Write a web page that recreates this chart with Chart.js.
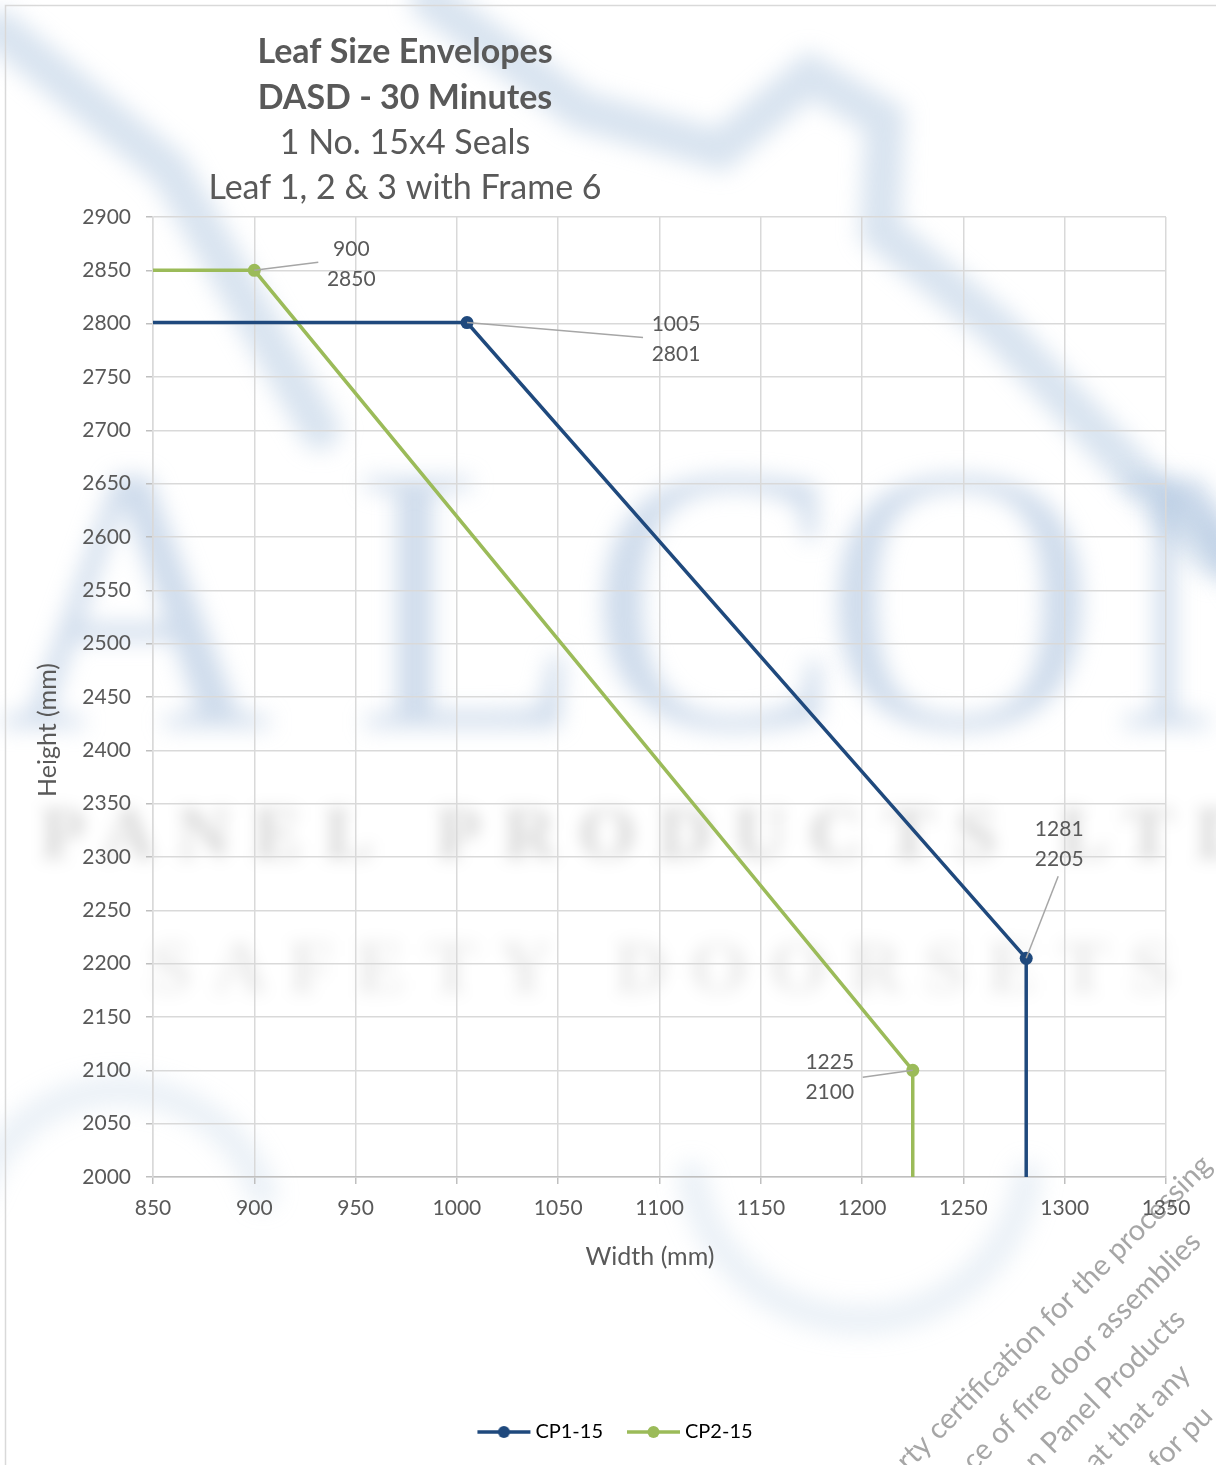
<!DOCTYPE html>
<html>
<head>
<meta charset="utf-8">
<title>Leaf Size Envelopes</title>
<script src="https://cdn.jsdelivr.net/npm/chart.js@4.4.1/dist/chart.umd.min.js"></script>
<style>
  html, body { margin: 0; padding: 0; background: #fff; overflow: hidden; }
  canvas { display: block; }
</style>
</head>
<body>
<canvas id="envelopeChart" width="1216" height="1465"></canvas>
<script>
// chart values
const titleLines = ['Leaf Size Envelopes', 'DASD - 30 Minutes'];
const subtitleLines = ['1 No. 15x4 Seals', 'Leaf 1, 2 & 3 with Frame 6'];
const xAxisTitle = 'Width (mm)';
const yAxisTitle = 'Height (mm)';
const seriesNames = ['CP1-15', 'CP2-15'];
const cp1Width = [850, 1005, 1281, 1281];
const cp1Height = [2801, 2801, 2205, 2000];
const cp2Width = [850, 900, 1225, 1225];
const cp2Height = [2850, 2850, 2100, 2000];
const labelledPoints = [1, 2]; // points with a marker and a value label
const xTicks = [850, 900, 950, 1000, 1050, 1100, 1150, 1200, 1250, 1300, 1350];
const yTicks = [2000, 2050, 2100, 2150, 2200, 2250, 2300, 2350, 2400, 2450, 2500, 2550, 2600, 2650, 2700, 2750, 2800, 2850, 2900];

const navy = '#1f497d';
const green = '#9bbb59';
const textGrey = '#595959';
const gridGrey = '#d9d9d9';
const FONT = "Lato, 'Open Sans', sans-serif";

// where each value label sits relative to its point (px), and where its leader line ends
const labelPlacement = [
  [null, {dx: 209, dy: 17, lx: 176, ly: 15}, {dx: 33, dy: -114, lx: 32, ly: -82}, null],
  [null, {dx: 97, dy: -6, lx: 64, ly: -8}, {dx: -83, dy: 7, lx: -50, ly: 7}, null]
];

function toPoints(xs, ys) {
  return xs.map((x, i) => ({x: x, y: ys[i]}));
}

function legendSwatch(color) {
  const c = document.createElement('canvas');
  c.width = 70; c.height = 16;
  const g = c.getContext('2d');
  g.strokeStyle = color;
  g.lineWidth = 3.5;
  g.beginPath(); g.moveTo(16, 8); g.lineTo(69, 8); g.stroke();
  g.fillStyle = color;
  g.beginPath(); g.arc(42.5, 8, 6, 0, Math.PI * 2); g.fill();
  return c;
}
const swatches = [legendSwatch(navy), legendSwatch(green)];

const backdrop = {
  id: 'backdrop',
  beforeDraw(chart) {
    const ctx = chart.ctx;
    ctx.save();
    ctx.fillStyle = '#fff';
    ctx.fillRect(0, 0, chart.width, chart.height);

    // faint logo watermark
    ctx.filter = 'blur(11px)';
    ctx.strokeStyle = 'rgba(165,190,220,0.42)';
    ctx.lineWidth = 40;
    ctx.lineCap = 'round';
    ctx.beginPath();
    ctx.moveTo(0, 30); ctx.lineTo(170, 170); ctx.lineTo(320, 430);
    ctx.stroke();
    ctx.beginPath();
    ctx.moveTo(430, 0); ctx.lineTo(580, 110); ctx.lineTo(720, 150);
    ctx.lineTo(810, 75); ctx.lineTo(885, 120); ctx.lineTo(880, 230);
    ctx.lineTo(1000, 330); ctx.lineTo(1216, 560);
    ctx.stroke();
    ctx.lineWidth = 30;
    ctx.strokeStyle = 'rgba(165,190,220,0.22)';
    ctx.beginPath(); ctx.arc(860, 1150, 170, Math.PI * 0.05, Math.PI * 0.95); ctx.stroke();
    ctx.beginPath(); ctx.arc(120, 1240, 150, Math.PI * 1.1, Math.PI * 1.9); ctx.stroke();

    ctx.fillStyle = 'rgba(160,185,218,0.5)';
    ctx.font = "380px 'Liberation Serif', serif";
    ctx.textAlign = 'center';
    ctx.textBaseline = 'alphabetic';
    [['A', 135], ['L', 470], ['C', 715], ['O', 960], ['N', 1250]].forEach(([ch, x]) => ctx.fillText(ch, x, 727));

    ctx.filter = 'blur(8px)';
    ctx.fillStyle = 'rgba(0,0,0,0.16)';
    ctx.font = "bold 74px 'Liberation Serif', serif";
    ctx.letterSpacing = '22px';
    ctx.textAlign = 'left';
    ctx.fillText('PANEL PRODUCTS LTD', 40, 858);
    ctx.fillStyle = 'rgba(0,0,0,0.09)';
    ctx.fillText('SAFETY DOORSETS', 150, 992);
    ctx.letterSpacing = '0px';
    ctx.filter = 'none';

    // diagonal disclaimer text, bottom right
    ctx.fillStyle = '#a6a6a6';
    ctx.font = '29px ' + FONT;
    const diag = [
      ['rty certification for the processing', 2380],
      ['ce of fire door assemblies', 2446],
      ['n Panel Products', 2508],
      ['at that any', 2568],
      ['for pu', 2632]
    ];
    diag.forEach(([txt, s]) => {
      ctx.save();
      ctx.translate(s - 1472, 1472);
      ctx.rotate(-Math.PI / 4);
      ctx.fillText(txt, 0, 0);
      ctx.restore();
    });

    // chart frame
    ctx.strokeStyle = gridGrey;
    ctx.lineWidth = 1.5;
    ctx.strokeRect(5.5, 5.5, 2000, 2000);
    ctx.restore();
  },
  afterDraw(chart) {
    const ctx = chart.ctx;
    ctx.save();
    ctx.fillStyle = textGrey;
    ctx.textAlign = 'center';
    ctx.textBaseline = 'middle';
    ctx.font = 'bold 34px ' + FONT;
    titleLines.forEach((t, i) => ctx.fillText(t, 405, 52 + i * 46));
    ctx.font = '34px ' + FONT;
    subtitleLines.forEach((t, i) => ctx.fillText(t, 405, 143 + i * 45));

    // axis titles
    ctx.font = '25px ' + FONT;
    ctx.fillText(xAxisTitle, 650, 1257);
    ctx.translate(48, 730);
    ctx.rotate(-Math.PI / 2);
    ctx.fillText(yAxisTitle, 0, 0);
    ctx.restore();
  }
};

const valueLabels = {
  id: 'valueLabels',
  afterDatasetsDraw(chart) {
    const ctx = chart.ctx;
    ctx.save();
    chart.data.datasets.forEach((ds, di) => {
      const meta = chart.getDatasetMeta(di);
      labelledPoints.forEach(pi => {
        const place = labelPlacement[di][pi];
        const el = meta.data[pi];
        const cx = el.x + place.dx;
        const cy = el.y + place.dy;
        ctx.strokeStyle = '#a6a6a6';
        ctx.lineWidth = 1.5;
        ctx.beginPath();
        ctx.moveTo(el.x, el.y);
        ctx.lineTo(el.x + place.lx, el.y + place.ly);
        ctx.stroke();
        ctx.fillStyle = textGrey;
        ctx.font = '21px ' + FONT;
        ctx.textAlign = 'center';
        ctx.textBaseline = 'middle';
        ctx.fillText(String(ds.data[pi].x), cx, cy - 15);
        ctx.fillText(String(ds.data[pi].y), cx, cy + 15);
      });
    });
    ctx.restore();
  }
};

function markerSizes(n) {
  const r = [];
  for (let i = 0; i < n; i++) r.push(labelledPoints.includes(i) ? 6.5 : 0);
  return r;
}

const ctx = document.getElementById('envelopeChart').getContext('2d');
const chart = new Chart(ctx, {
  type: 'scatter',
  data: {
    datasets: [
      {
        label: seriesNames[0],
        data: toPoints(cp1Width, cp1Height),
        showLine: true,
        borderColor: navy,
        backgroundColor: navy,
        borderWidth: 3.5,
        pointRadius: markerSizes(cp1Width.length),
        pointHoverRadius: markerSizes(cp1Width.length),
        pointBorderWidth: 0
      },
      {
        label: seriesNames[1],
        data: toPoints(cp2Width, cp2Height),
        showLine: true,
        borderColor: green,
        backgroundColor: green,
        borderWidth: 3.5,
        pointRadius: markerSizes(cp2Width.length),
        pointHoverRadius: markerSizes(cp2Width.length),
        pointBorderWidth: 0
      }
    ]
  },
  options: {
    responsive: false,
    animation: false,
    devicePixelRatio: 1,
    layout: {
      padding: {top: 217, right: 0, bottom: 13, left: 4}
    },
    plugins: {
      title: {display: false},
      tooltip: {enabled: false},
      legend: {
        position: 'bottom',
        labels: {
          usePointStyle: true,
          pointStyleWidth: 58,
          padding: 14,
          color: '#000',
          font: {family: FONT, size: 20},
          generateLabels(ch) {
            return ch.data.datasets.map((ds, i) => ({
              text: ds.label,
              fillStyle: ds.borderColor,
              strokeStyle: ds.borderColor,
              lineWidth: 0,
              pointStyle: swatches[i],
              datasetIndex: i,
              hidden: false,
              fontColor: '#000'
            }));
          }
        }
      }
    },
    scales: {
      x: {
        type: 'linear',
        min: xTicks[0],
        max: xTicks[xTicks.length - 1],
        afterBuildTicks(scale) { scale.ticks = xTicks.map(v => ({value: v})); },
        afterFit(scale) { scale.height = 231; },
        ticks: {color: textGrey, font: {family: FONT, size: 21}, padding: 12, maxRotation: 0, autoSkip: false, callback: v => String(v)},
        grid: {color: gridGrey, lineWidth: 1.5, tickLength: 7, tickColor: '#bfbfbf'},
        border: {color: '#bfbfbf', width: 1.5}
      },
      y: {
        type: 'linear',
        min: yTicks[0],
        max: yTicks[yTicks.length - 1],
        afterBuildTicks(scale) { scale.ticks = yTicks.map(v => ({value: v})); },
        afterFit(scale) { scale.width = 149; },
        ticks: {color: textGrey, font: {family: FONT, size: 21}, padding: 15, autoSkip: false, callback: v => String(v)},
        grid: {color: gridGrey, lineWidth: 1.5, tickLength: 7, tickColor: '#bfbfbf'},
        border: {color: gridGrey, width: 1.5}
      },
      // empty strip on the right so the legend centres on the whole canvas
      yRight: {
        type: 'linear',
        position: 'right',
        display: true,
        afterFit(scale) { scale.width = 50; },
        ticks: {display: false},
        grid: {display: false},
        border: {display: false}
      }
    }
  },
  plugins: [backdrop, valueLabels]
});
</script>
</body>
</html>
